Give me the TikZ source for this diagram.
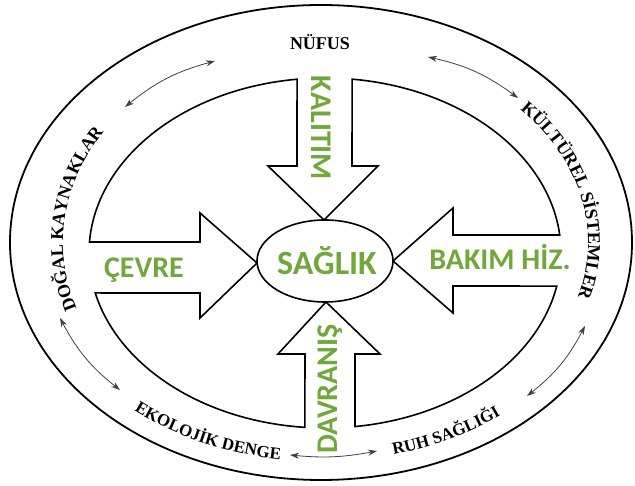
\documentclass[tikz,border=0pt]{standalone}
\usepackage{fontspec}
\setmainfont{Liberation Serif}
\newfontfamily\grnfont{Carlito}
\usetikzlibrary{arrows.meta,decorations.text}
\definecolor{leafgreen}{RGB}{112,168,60}
\def\inn#1{([shift={(325,233)}]#1:236 and 175)}
\def\rim#1#2#3{([shift={(321,243.5)}]#1:#2 and #3)}
\tikzset{
  ring/.style={x radius=236, y radius=175},
  twoway/.style={{Stealth[length=9pt,width=6pt]}-{Stealth[length=9pt,width=6pt]}, line width=0.8pt, black!75},
  greenlabel/.style={font=\grnfont\bfseries\fontsize{30}{30}\selectfont, text=leafgreen, inner sep=0pt},
  along/.style 2 args={decorate, decoration={text along path, text align=center,
      text={|\bfseries\fontsize{#1}{#1}\selectfont|#2}}}
}

\begin{document}
\begin{tikzpicture}[x=1pt, y=1pt]
  \useasboundingbox (0,0) rectangle (635,486);
  % outer ring
  \draw[line width=1.8pt] (321,243.5) ellipse [x radius=311, y radius=237.5];
  % inner ring with the four block arrows
  \draw[line width=1.6pt, line join=miter]
    \inn{83.4} arc[start angle=83.4, end angle=5.9, ring]
      -- (453,251) -- (453,278) -- (393,225) -- (453,173) -- (453,200)
    -- \inn{-10.9} arc[start angle=-10.9, end angle=-82.7, ring]
      -- (355,132) -- (380,132) -- (326,184) -- (278,132) -- (305,132)
    -- \inn{-94.9} arc[start angle=-94.9, end angle=-166.8, ring]
      -- (200,193) -- (200,168) -- (257,223) -- (200,273) -- (200,244)
    -- \inn{176.4} arc[start angle=176.4, end angle=96.8, ring]
      -- (297,320) -- (268,320) -- (324,266) -- (378,320) -- (352,320) -- cycle;
  \draw[line width=1.6pt] (325,225) ellipse [x radius=68, y radius=41];

  % green labels
  \node[greenlabel, anchor=base, font=\grnfont\bfseries\fontsize{34}{34}\selectfont] (saglik) at (327,211) {SAĞLIK};
  \node[greenlabel, rotate=-90] (kalitim) at (321,358) {KALITIM};
  \node[greenlabel, rotate=90] (davranis) at (330,97) {DAVRANIŞ};
  \node[greenlabel, anchor=base] (cevre) at (144,208) {ÇEVRE};
  \node[greenlabel, anchor=base] (bakim) at (500,216) {BAKIM HİZ.};

  % ring labels
  \node[font=\bfseries\fontsize{18}{18}\selectfont, anchor=base, inner sep=0pt] (nufus) at (320,436) {NÜFUS};
  \path[along={18}{DOĞAL KAYNAKLAR}] \rim{215}{258}{205} arc[start angle=215, end angle=132, x radius=258, y radius=205];
  \path[along={18}{KÜLTÜREL SİSTEMLER}] \rim{57}{267}{200} arc[start angle=57, end angle=-33, x radius=267, y radius=200];
  \path[along={17}{EKOLOJİK DENGE}] \rim{220}{292}{219} arc[start angle=220, end angle=271, x radius=292, y radius=219];
  \path[along={17}{RUH SAĞLIĞI}] \rim{272}{292}{219} arc[start angle=272, end angle=322, x radius=292, y radius=219];

  % two-way links
  \coordinate (tl1) at (125,379); \coordinate (tl2) at (215,425);
  \coordinate (tr1) at (428,429); \coordinate (tr2) at (518,388);
  \coordinate (bl1) at (60,168);  \coordinate (bl2) at (120,96);
  \coordinate (br1) at (585,160); \coordinate (br2) at (527,90);
  \coordinate (bm1) at (290,31);  \coordinate (bm2) at (377,35);
  \draw[twoway] (tl1) to[bend left=12] (tl2);
  \draw[twoway] (tr1) to[bend left=12] (tr2);
  \draw[twoway] (bl1) to[bend right=12] (bl2);
  \draw[twoway] (br1) to[bend left=12] (br2);
  \draw[twoway] (bm1) to[bend right=8] (bm2);
\end{tikzpicture}
\end{document}
